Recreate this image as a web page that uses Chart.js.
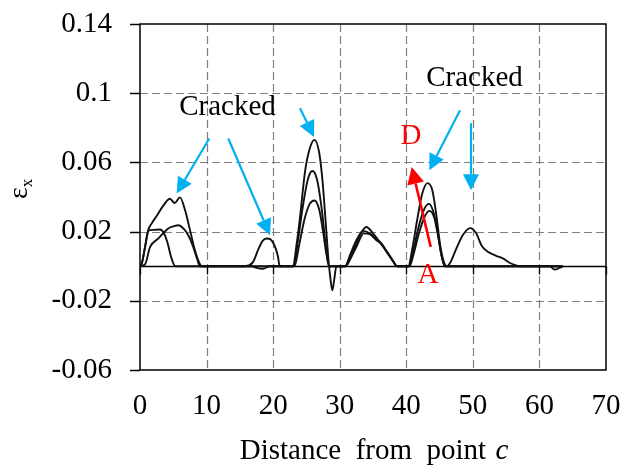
<!DOCTYPE html>
<html>
<head>
<meta charset="utf-8">
<script src="https://cdn.jsdelivr.net/npm/chart.js@4"></script>
<style>
  html, body { margin: 0; padding: 0; background: #fff; }
  #wrap { width: 626px; height: 471px; }
</style>
</head>
<body>
<div id="wrap"><canvas id="strainChart" width="626" height="471"></canvas></div>
<script>
// axis ticks
const xTicks = [0, 10, 20, 30, 40, 50, 60, 70];
const yTicks = [-0.06, -0.02, 0.02, 0.06, 0.1, 0.14];

// strain along the line, three load steps
const distA = [0, 0.3, 0.8, 1.25, 1.8, 2.5, 3.5, 4.5, 5.2, 6.0, 6.8, 7.5, 8.2, 8.8, 9.3,
  15.5, 16.3, 17.0, 17.8, 18.4, 19.0, 19.6, 20.2, 20.7, 21.0,
  23.0, 23.5, 24.0, 24.8, 25.5, 26.2, 26.9, 27.4, 27.9, 28.3, 28.6, 28.9, 29.2, 29.5,
  30.8, 31.6, 32.5, 33.3, 34.0, 35.0, 36.0, 37.3, 38.0, 38.6,
  40.3, 40.9, 41.6, 42.4, 43.2, 43.9, 44.5, 45.1, 45.6, 46.1,
  46.6, 47.5, 48.5, 49.6, 50.5, 51.3, 52.2, 53.5, 54.5, 55.5, 56.5, 57.0, 63.5];
const epsA = [0, 0.002, 0.012, 0.021, 0.025, 0.029, 0.035, 0.039, 0.0365, 0.0398, 0.032, 0.021, 0.010, 0.003, 0,
  0, 0.0005, 0.0025, 0.010, 0.0145, 0.016, 0.0155, 0.012, 0.006, 0,
  0, 0.012, 0.027, 0.055, 0.068, 0.073, 0.066, 0.05, 0.025, 0.004, -0.007, -0.014, -0.007, 0,
  0, 0.007, 0.015, 0.020, 0.0227, 0.019, 0.014, 0.0073, 0.003, 0,
  0, 0.01, 0.026, 0.042, 0.048, 0.044, 0.03, 0.012, 0.003, 0,
  0.002, 0.01, 0.018, 0.022, 0.019, 0.012, 0.0085, 0.006, 0.0045, 0.002, 0.0005, 0, 0];

const distB = [0, 0.3, 0.8, 1.25, 2.0, 3.0, 3.6, 4.1, 4.7, 5.3,
  16.8, 17.5, 18.5, 19.5,
  23.1, 23.7, 24.4, 25.2, 25.9, 26.6, 27.3, 27.9, 28.4,
  30.8, 31.6, 32.5, 33.5, 34.5, 35.5, 36.2, 37.3, 38.0, 38.6,
  40.4, 41.0, 41.8, 42.7, 43.4, 44.1, 44.7, 45.2, 45.8, 63.5];
const epsB = [0, 0.002, 0.012, 0.0205, 0.021, 0.0212, 0.019, 0.014, 0.005, 0,
  0, -0.001, -0.0015, 0,
  0, 0.014, 0.033, 0.050, 0.055, 0.05, 0.033, 0.012, 0,
  0, 0.006, 0.013, 0.0204, 0.019, 0.0155, 0.0135, 0.007, 0.003, 0,
  0, 0.008, 0.022, 0.033, 0.036, 0.031, 0.02, 0.008, 0, 0];

const distC = [0, 0.75, 1.5, 2.75, 4.25, 5.0, 5.75, 6.75, 7.5, 8.0, 8.6, 9.0,
  23.2, 23.9, 24.7, 25.5, 26.2, 26.9, 27.5, 28.0, 28.4,
  30.9, 31.7, 32.6, 33.6, 34.5, 35.5, 36.2, 37.3, 38.0, 38.6,
  40.5, 41.1, 41.9, 42.8, 43.5, 44.2, 44.8, 45.3, 45.8,
  61.5, 62.3, 63.0, 63.5];
const epsC = [0, 0.001, 0.011, 0.016, 0.0218, 0.023, 0.0237, 0.0208, 0.016, 0.011, 0.004, 0,
  0, 0.012, 0.027, 0.036, 0.038, 0.033, 0.02, 0.007, 0,
  0, 0.005, 0.012, 0.019, 0.0185, 0.015, 0.013, 0.0068, 0.003, 0,
  0, 0.007, 0.019, 0.029, 0.032, 0.028, 0.017, 0.006, 0,
  0, -0.002, -0.001, 0];

const SERIF = '"Liberation Serif", "Times New Roman", serif';
const FONT_PX = 29;
const BLUE = '#00b0f0';
const RED = '#ff0000';

function toPoints(xs, ys) {
    return xs.map((v, i) => ({ x: v, y: ys[i] }));
}

function makeSet(xs, ys) {
    return {
        data: toPoints(xs, ys),
        borderColor: '#111',
        borderWidth: 1.9,
        pointRadius: 0,
        fill: false,
        cubicInterpolationMode: 'monotone'
    };
}

// callouts, placed in data units
const blueArrows = [
    [10.41, 0.0738, 5.51, 0.0420],
    [13.26, 0.0738, 19.53, 0.0179],
    [24.03, 0.0913, 26.14, 0.0747],
    [48.07, 0.0902, 43.46, 0.0555],
    [49.72, 0.0827, 49.72, 0.0439]
];
const redArrow = [43.67, 0.0112, 40.81, 0.0574];
const notes = [
    { text: 'Cracked', x: 13.14, y: 0.0919, color: '#000' },
    { text: 'Cracked', x: 50.25, y: 0.1087, color: '#000' },
    { text: 'D', x: 40.71, y: 0.0751, color: RED },
    { text: 'A', x: 43.26, y: -0.0052, color: RED }
];

function drawArrow(ctx, x0, y0, x1, y1, color, width, headLen, headW) {
    const ang = Math.atan2(y1 - y0, x1 - x0);
    const bx = x1 - headLen * Math.cos(ang);
    const by = y1 - headLen * Math.sin(ang);
    ctx.strokeStyle = color;
    ctx.fillStyle = color;
    ctx.lineWidth = width;
    ctx.beginPath();
    ctx.moveTo(x0, y0);
    ctx.lineTo(bx, by);
    ctx.stroke();
    ctx.beginPath();
    ctx.moveTo(x1, y1);
    ctx.lineTo(bx + headW * Math.sin(ang), by - headW * Math.cos(ang));
    ctx.lineTo(bx - headW * Math.sin(ang), by + headW * Math.cos(ang));
    ctx.closePath();
    ctx.fill();
}

const framePlugin = {
    id: 'framePlugin',
    beforeDatasetsDraw(chart) {
        const { ctx, chartArea: a, scales: { x, y } } = chart;
        ctx.save();
        // dashed grid
        ctx.strokeStyle = '#7f7f7f';
        ctx.lineWidth = 1.2;
        ctx.setLineDash([8, 4]);
        xTicks.forEach(v => {
            if (v <= x.min || v >= x.max) return;
            const px = Math.round(x.getPixelForValue(v)) + 0.5;
            ctx.beginPath(); ctx.moveTo(px, a.top); ctx.lineTo(px, a.bottom); ctx.stroke();
        });
        yTicks.forEach(v => {
            if (v <= y.min || v >= y.max) return;
            const py = Math.round(y.getPixelForValue(v)) + 0.5;
            ctx.beginPath(); ctx.moveTo(a.left, py); ctx.lineTo(a.right, py); ctx.stroke();
        });
        ctx.setLineDash([]);
        // zero axis with ticks hanging below
        const zy = Math.round(y.getPixelForValue(0)) + 0.5;
        ctx.strokeStyle = '#000';
        ctx.lineWidth = 1.3;
        ctx.beginPath(); ctx.moveTo(a.left, zy); ctx.lineTo(a.right, zy); ctx.stroke();
        xTicks.forEach(v => {
            const px = Math.round(x.getPixelForValue(v)) + 0.5;
            ctx.beginPath(); ctx.moveTo(px, zy); ctx.lineTo(px, zy + 8); ctx.stroke();
        });
        ctx.restore();
    },
    afterDatasetsDraw(chart) {
        const { ctx, chartArea: a, scales: { x, y } } = chart;
        ctx.save();
        // box
        ctx.strokeStyle = '#000';
        ctx.lineWidth = 1.5;
        ctx.strokeRect(a.left, a.top, a.right - a.left, a.bottom - a.top);
        yTicks.forEach(v => {
            const py = Math.round(y.getPixelForValue(v)) + 0.5;
            ctx.beginPath(); ctx.moveTo(a.left - 10, py); ctx.lineTo(a.left, py); ctx.stroke();
        });

        blueArrows.forEach(([x0, y0, x1, y1]) => {
            drawArrow(ctx, x.getPixelForValue(x0), y.getPixelForValue(y0),
                x.getPixelForValue(x1), y.getPixelForValue(y1), BLUE, 2.2, 16, 8);
        });
        drawArrow(ctx, x.getPixelForValue(redArrow[0]), y.getPixelForValue(redArrow[1]),
            x.getPixelForValue(redArrow[2]), y.getPixelForValue(redArrow[3]), RED, 2.6, 17, 8.5);

        ctx.font = FONT_PX + 'px ' + SERIF;
        ctx.textAlign = 'center';
        ctx.textBaseline = 'middle';
        notes.forEach(n => {
            ctx.fillStyle = n.color;
            ctx.fillText(n.text, x.getPixelForValue(n.x), y.getPixelForValue(n.y));
        });
        ctx.restore();
    },
    afterDraw(chart) {
        const { ctx, chartArea: a } = chart;
        ctx.save();
        ctx.fillStyle = '#000';
        ctx.textBaseline = 'alphabetic';
        // x title with italic c
        const plain = 'Distance  from  point ';
        ctx.font = FONT_PX + 'px ' + SERIF;
        const w1 = ctx.measureText(plain).width;
        ctx.font = 'italic ' + FONT_PX + 'px ' + SERIF;
        const w2 = ctx.measureText('c').width;
        const sx = (a.left + a.right) / 2 - (w1 + w2) / 2;
        ctx.font = FONT_PX + 'px ' + SERIF;
        ctx.textAlign = 'left';
        ctx.fillText(plain, sx, 459);
        ctx.font = 'italic ' + FONT_PX + 'px ' + SERIF;
        ctx.fillText('c', sx + w1 + 2, 459);
        // y title: epsilon with x subscript
        ctx.translate(27, 199);
        ctx.rotate(-Math.PI / 2);
        ctx.font = '28px ' + SERIF;
        ctx.fillText('\u03b5', 0, 0);
        const we = ctx.measureText('\u03b5').width;
        ctx.font = '17px ' + SERIF;
        ctx.fillText('x', we, 5);
        ctx.restore();
    }
};

new Chart(document.getElementById('strainChart'), {
    type: 'line',
    data: {
        datasets: [makeSet(distA, epsA), makeSet(distB, epsB), makeSet(distC, epsC)]
    },
    options: {
        responsive: false,
        animation: false,
        layout: { padding: { top: 24, right: 20, left: 0, bottom: 0 } },
        plugins: { legend: { display: false }, tooltip: { enabled: false } },
        scales: {
            x: {
                type: 'linear',
                min: 0,
                max: 70,
                afterBuildTicks: s => { s.ticks = xTicks.map(v => ({ value: v })); },
                afterFit: s => { s.height = 101; s.paddingLeft = 0; s.paddingRight = 0; },
                grid: { display: false, drawTicks: false },
                border: { display: false },
                ticks: {
                    padding: 19,
                    color: '#000',
                    maxRotation: 0,
                    font: { family: SERIF, size: FONT_PX }
                }
            },
            y: {
                min: -0.06,
                max: 0.14,
                afterBuildTicks: s => { s.ticks = yTicks.map(v => ({ value: v })); },
                afterFit: s => { s.width = 140; s.paddingTop = 0; s.paddingBottom = 0; },
                grid: { display: false, drawTicks: false },
                border: { display: false },
                ticks: {
                    padding: 28,
                    color: '#000',
                    font: { family: SERIF, size: FONT_PX },
                    callback: v => String(Number(v.toFixed(2)))
                }
            }
        }
    },
    plugins: [framePlugin]
});
</script>
</body>
</html>
